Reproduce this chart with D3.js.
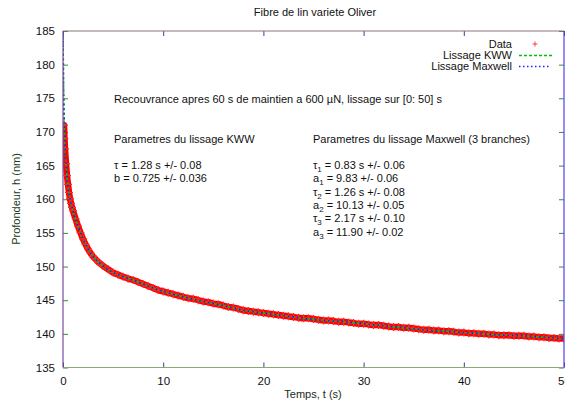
<!DOCTYPE html>
<html><head><meta charset="utf-8">
<script src="https://cdn.jsdelivr.net/npm/d3@7"></script>
<style>body{margin:0;background:#fff}svg{display:block}text{font-family:"Liberation Sans",Arial,sans-serif}</style>
</head><body><svg id="c" width="565" height="403"></svg>
<script>
const title = "Fibre de lin variete Oliver";
const xLabel = "Temps, t (s)";
const yLabel = "Profondeur, h (nm)";
const xTicks = [0, 10, 20, 30, 40, 50];
const yTicks = [135, 140, 145, 150, 155, 160, 165, 170, 175, 180, 185];
const seriesNames = ["Data", "Lissage KWW", "Lissage Maxwell"];

// Data (recovery depth)
const dataT = [0.1,0.15,0.2,0.3,0.4,0.5,0.6,0.7,0.8,0.9,1.0,1.25,1.5,1.75,2.0,2.25,2.5,2.75,3.0,3.25,3.5,3.75,4.0,4.5,5.0,5.5,6.0,6.5,7.0,7.5,8.0,8.5,9.0,9.5,10,10.5,11,11.5,12,12.5,13,13.5,14,14.5,15,15.5,16,16.5,17,17.5,18,18.5,19,19.5,20,20.5,21,21.5,22,22.5,23,23.5,24,24.5,25,25.5,26,26.5,27,27.5,28,28.5,29,29.5,30,30.5,31,31.5,32,32.5,33,33.5,34,34.5,35,35.5,36,36.5,37,37.5,38,38.5,39,39.5,40,40.5,41,41.5,42,42.5,43,43.5,44,44.5,45,45.5,46,46.5,47,47.5,48,48.5,49,49.5,50];
const dataH = [171.0,169.0,167.5,165.3,163.5,162.2,161.0,160.1,159.4,158.8,158.3,157.1,156.0,155.0,154.1,153.3,152.6,152.0,151.5,151.1,150.7,150.4,150.1,149.6,149.1,148.8,148.5,148.2,148.0,147.7,147.4,147.1,146.8,146.5,146.3,146.1,145.9,145.7,145.5,145.3,145.2,145.0,144.8,144.7,144.5,144.4,144.2,144.0,143.9,143.7,143.5,143.4,143.3,143.2,143.1,143.0,142.9,142.8,142.7,142.6,142.5,142.4,142.3,142.3,142.2,142.1,142.0,142.0,141.9,141.8,141.8,141.7,141.6,141.5,141.5,141.4,141.3,141.3,141.2,141.1,141.0,141.0,140.9,140.9,140.8,140.7,140.6,140.6,140.5,140.5,140.4,140.4,140.3,140.2,140.2,140.1,140.1,140.0,140.0,139.9,139.9,139.8,139.8,139.8,139.7,139.7,139.7,139.6,139.6,139.5,139.5,139.4,139.4,139.3,139.3];

// Fit curves
const fitT = [0,0.02,0.05,0.1,0.2,0.3,0.5,0.7,1,1.5,2,2.5,3,4,5,6,7,8,9,10,12,14,16,18,20,22,24,26,28,30,32,34,36,38,40,42,44,46,48,50];
const kwwH = [187,182,177.5,172.2,167.9,165.3,162.1,160.1,158.3,156.0,154.1,152.6,151.5,150.1,149.1,148.5,148.0,147.4,146.8,146.3,145.5,144.8,144.2,143.5,143.1,142.7,142.3,142.0,141.8,141.5,141.2,140.9,140.6,140.4,140.2,140.0,139.8,139.7,139.5,139.3];
const maxH = [186,181.8,177.6,172.4,168.0,165.4,162.2,160.1,158.3,156.0,154.1,152.6,151.5,150.1,149.1,148.5,148.0,147.4,146.8,146.3,145.5,144.8,144.2,143.5,143.1,142.7,142.3,142.0,141.8,141.5,141.2,140.9,140.6,140.4,140.2,140.0,139.8,139.7,139.5,139.3];

const note = "Recouvrance apres 60 s de maintien a 600 \u00b5N, lissage sur [0: 50] s";
const kwwTitle = "Parametres du lissage KWW";
const kwwLines = [["\u03c4", "", " = 1.28 s +/- 0.08"], ["b", "", " = 0.725 +/- 0.036"]];
const maxTitle = "Parametres du lissage Maxwell (3 branches)";
const maxLines = [["\u03c4","1"," = 0.83 s +/- 0.06"],["a","1"," = 9.83 +/- 0.06"],["\u03c4","2"," = 1.26 s +/- 0.08"],["a","2"," = 10.13 +/- 0.05"],["\u03c4","3"," = 2.17 s +/- 0.10"],["a","3"," = 11.90 +/- 0.02"]];

const svg = d3.select("#c");
const L = 63, R = 564, T = 31, B = 367.5;
const x = d3.scaleLinear().domain([0, 50]).range([L, R]);
const y = d3.scaleLinear().domain([135, 185]).range([B, T]);
const fs = 11;

svg.append("defs").append("clipPath").attr("id", "clip").append("rect")
  .attr("x", L).attr("y", T).attr("width", R - L).attr("height", B - T);

// ticks (inward) and labels
svg.append("g").attr("transform", `translate(${L},0)`)
  .call(d3.axisLeft(y).tickValues(yTicks).tickSize(-5).tickPadding(8).tickFormat(d3.format("d")))
  .call(g => { g.select(".domain").remove(); g.selectAll("line").attr("stroke", "#3a8a3a"); g.selectAll("text").attr("font-size", 11.5).attr("fill", "#111").attr("font-family", "Liberation Sans,Arial"); });
svg.append("g").attr("transform", `translate(${R},0)`)
  .call(d3.axisRight(y).tickValues(yTicks).tickSize(-5).tickFormat(""))
  .call(g => { g.select(".domain").remove(); g.selectAll("line").attr("stroke", "#3a8a3a"); });
svg.append("g").attr("transform", `translate(0,${B})`)
  .call(d3.axisBottom(x).tickValues(xTicks).tickSize(-5).tickPadding(9).tickFormat(d3.format("d")))
  .call(g => { g.select(".domain").remove(); g.selectAll("line").attr("stroke", "#2a4a8a"); g.selectAll("text").attr("font-size", 11.5).attr("fill", "#111").attr("font-family", "Liberation Sans,Arial"); });
svg.append("g").attr("transform", `translate(0,${T})`)
  .call(d3.axisTop(x).tickValues(xTicks).tickSize(-5).tickFormat(""))
  .call(g => { g.select(".domain").remove(); g.selectAll("line").attr("stroke", "#2a4a8a"); });

const plot = svg.append("g").attr("clip-path", "url(#clip)");
const ln = d3.line().x(d => x(d[0])).y(d => y(d[1])).curve(d3.curveMonotoneX);

// data band + markers
const dataPts = dataT.map((t, i) => [t, dataH[i]]);
plot.append("path").datum(dataPts).attr("d", ln)
  .attr("fill", "none").attr("stroke", "#ff0000").attr("stroke-width", 6.5).attr("stroke-linejoin", "round").attr("stroke-linecap", "round");
plot.append("g").selectAll("path").data(dataPts).join("path")
  .attr("d", d => `M${x(d[0]) - 4},${y(d[1])}h8M${x(d[0])},${y(d[1]) - 4}v8`)
  .attr("stroke", "#ff2a2a").attr("stroke-width", 1.2);

// fits
const kwwPts = fitT.map((t, i) => [t, kwwH[i]]);
const maxPts = fitT.map((t, i) => [t, maxH[i]]);
plot.append("path").datum(kwwPts).attr("d", ln).attr("fill", "none").attr("stroke", "#00c000").attr("stroke-width", 1.6).attr("stroke-dasharray", "3,2");
plot.append("path").datum(maxPts).attr("d", ln).attr("fill", "none").attr("stroke", "#1a1aff").attr("stroke-width", 1.6).attr("stroke-dasharray", "1.5,3").attr("stroke-dashoffset", 1.5);

// border
svg.append("line").attr("x1", L).attr("x2", R).attr("y1", T).attr("y2", T).attr("stroke", "#8a7676").attr("stroke-width", 1.2);
svg.append("line").attr("x1", L).attr("x2", R).attr("y1", B).attr("y2", B).attr("stroke", "#88a878").attr("stroke-width", 1.2);
svg.append("line").attr("x1", L).attr("x2", L).attr("y1", T).attr("y2", B).attr("stroke", "#7a4aa0").attr("stroke-width", 1.2);
svg.append("line").attr("x1", R).attr("x2", R).attr("y1", T).attr("y2", B).attr("stroke", "#5a40e8").attr("stroke-width", 1.2);

// title and axis labels
svg.append("text").attr("x", 315).attr("y", 16).attr("text-anchor", "middle").attr("font-size", fs).attr("fill", "#111").text(title);
svg.append("text").attr("x", 313).attr("y", 398).attr("text-anchor", "middle").attr("font-size", fs).attr("fill", "#1a2a1a").text(xLabel);
svg.append("text").attr("transform", "translate(20,199) rotate(-90)").attr("text-anchor", "middle").attr("font-size", fs).attr("fill", "#1a3a1a").text(yLabel);

// legend
const legY = [44, 55, 66];
seriesNames.forEach((n, i) => {
  svg.append("text").attr("x", 512).attr("y", legY[i] + 4).attr("text-anchor", "end").attr("font-size", fs).attr("fill", "#111").text(n);
});
svg.append("path").attr("d", `M${535 - 2.5},${legY[0]}h5M535,${legY[0] - 2.5}v5`).attr("stroke", "#ff4040").attr("stroke-width", 1);
svg.append("line").attr("x1", 519).attr("x2", 552).attr("y1", legY[1] + 0.5).attr("y2", legY[1] + 0.5).attr("stroke", "#00c000").attr("stroke-width", 1.5).attr("stroke-dasharray", "3,2");
svg.append("line").attr("x1", 519).attr("x2", 550).attr("y1", legY[2] + 0.5).attr("y2", legY[2] + 0.5).attr("stroke", "#1a1aff").attr("stroke-width", 1.5).attr("stroke-dasharray", "1.5,2.5");

// annotations
svg.append("text").attr("x", 114).attr("y", 103).attr("font-size", fs).attr("fill", "#111").text(note);
svg.append("text").attr("x", 114).attr("y", 143).attr("font-size", fs).attr("fill", "#111").text(kwwTitle);
svg.append("text").attr("x", 313).attr("y", 143).attr("font-size", fs).attr("fill", "#111").text(maxTitle);
function paramLines(x0, y0, lines) {
  lines.forEach((l, i) => {
    const t = svg.append("text").attr("x", x0).attr("y", y0 + i * 13.3).attr("font-size", fs).attr("fill", "#111");
    t.append("tspan").text(l[0]);
    if (l[1]) t.append("tspan").attr("dy", 3).attr("font-size", 8).text(l[1]);
    t.append("tspan").attr("dy", l[1] ? -3 : 0).text(l[2]);
  });
}
paramLines(114, 169, kwwLines);
paramLines(313, 169, maxLines);
</script></body></html>
